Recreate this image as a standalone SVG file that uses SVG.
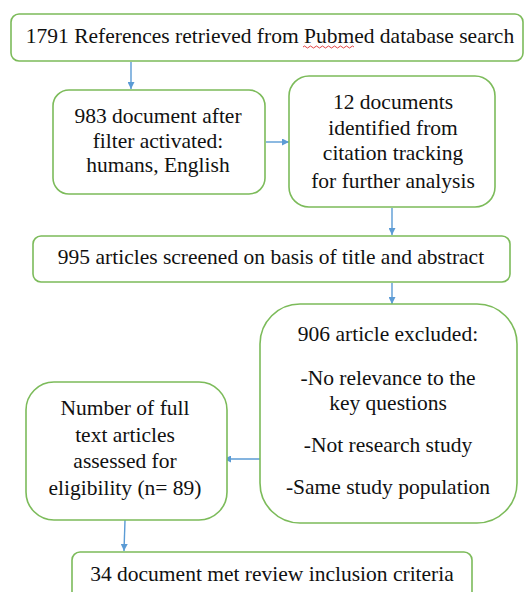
<svg xmlns="http://www.w3.org/2000/svg" width="528" height="592" viewBox="0 0 528 592">
<defs>
<marker id="ah" viewBox="0 0 10 10" refX="10" refY="5" markerWidth="7" markerHeight="7" markerUnits="userSpaceOnUse" orient="auto"><path d="M0,0 L10,5 L0,10 z" fill="#5b9bd5"/></marker>
</defs>
<rect width="528" height="592" fill="#fff"/>
<g id="connectors" stroke="#5b9bd5" stroke-width="1.4" fill="none">
<line x1="131" y1="62" x2="131" y2="89" marker-end="url(#ah)"/>
<line x1="266" y1="142" x2="289" y2="142" marker-end="url(#ah)"/>
<line x1="392" y1="208" x2="392" y2="235" marker-end="url(#ah)"/>
<line x1="392" y1="283" x2="392" y2="304" marker-end="url(#ah)"/>
<line x1="260" y1="459" x2="224" y2="459" marker-end="url(#ah)"/>
<line x1="125" y1="520" x2="124" y2="551" marker-end="url(#ah)"/>
</g>
<g id="n1">
<rect fill="#fff" stroke="#7cbb5a" stroke-width="1.6" x="11" y="14" width="512" height="47" rx="8"/>
<text style="font-family:'Liberation Serif',serif;font-size:21.5px" fill="#111" text-anchor="middle" x="270" y="43">1791 References retrieved from Pubmed database search</text>
<path d="M303,47 q1.5,-2 3,0 t3,0 t3,0 t3,0 t3,0 t3,0 t3,0 t3,0 t3,0 t3,0 t3,0 t3,0 t3,0 t3,0 t3,0 t3,0 t3,0" fill="none" stroke="#e03030" stroke-width="0.9"/>
</g>
<g id="n2">
<rect fill="#fff" stroke="#7cbb5a" stroke-width="1.6" x="53" y="90" width="212" height="104" rx="16"/>
<text style="font-family:'Liberation Serif',serif;font-size:21.5px" fill="#111" text-anchor="middle" x="158" y="123">983 document after</text>
<text style="font-family:'Liberation Serif',serif;font-size:21.5px" fill="#111" text-anchor="middle" x="158" y="148">filter activated:</text>
<text style="font-family:'Liberation Serif',serif;font-size:21.5px" fill="#111" text-anchor="middle" x="158" y="172">humans, English</text>
</g>
<g id="n3">
<rect fill="#fff" stroke="#7cbb5a" stroke-width="1.6" x="289" y="76" width="206" height="131" rx="20"/>
<text style="font-family:'Liberation Serif',serif;font-size:21.5px" fill="#111" text-anchor="middle" x="393" y="109">12 documents</text>
<text style="font-family:'Liberation Serif',serif;font-size:21.5px" fill="#111" text-anchor="middle" x="393" y="135">identified from</text>
<text style="font-family:'Liberation Serif',serif;font-size:21.5px" fill="#111" text-anchor="middle" x="393" y="160">citation tracking</text>
<text style="font-family:'Liberation Serif',serif;font-size:21.5px" fill="#111" text-anchor="middle" x="393" y="188">for further analysis</text>
</g>
<g id="n4">
<rect fill="#fff" stroke="#7cbb5a" stroke-width="1.6" x="33" y="236" width="477" height="46" rx="8"/>
<text style="font-family:'Liberation Serif',serif;font-size:21.5px" fill="#111" text-anchor="middle" x="271" y="264">995 articles screened on basis of title and abstract</text>
</g>
<g id="n5">
<rect fill="#fff" stroke="#7cbb5a" stroke-width="1.6" x="260" y="304" width="257" height="219" rx="40"/>
<text style="font-family:'Liberation Serif',serif;font-size:21.5px" fill="#111" text-anchor="middle" x="388" y="341">906 article excluded:</text>
<text style="font-family:'Liberation Serif',serif;font-size:21.5px" fill="#111" text-anchor="middle" x="388" y="385">-No relevance to the</text>
<text style="font-family:'Liberation Serif',serif;font-size:21.5px" fill="#111" text-anchor="middle" x="388" y="410">key questions</text>
<text style="font-family:'Liberation Serif',serif;font-size:21.5px" fill="#111" text-anchor="middle" x="388" y="452">-Not research study</text>
<text style="font-family:'Liberation Serif',serif;font-size:21.5px" fill="#111" text-anchor="middle" x="388" y="494">-Same study population</text>
</g>
<g id="n6">
<rect fill="#fff" stroke="#7cbb5a" stroke-width="1.6" x="26" y="382" width="201" height="138" rx="28"/>
<text style="font-family:'Liberation Serif',serif;font-size:21.5px" fill="#111" text-anchor="middle" x="125" y="415">Number of full</text>
<text style="font-family:'Liberation Serif',serif;font-size:21.5px" fill="#111" text-anchor="middle" x="125" y="442">text articles</text>
<text style="font-family:'Liberation Serif',serif;font-size:21.5px" fill="#111" text-anchor="middle" x="125" y="468">assessed for</text>
<text style="font-family:'Liberation Serif',serif;font-size:21.5px" fill="#111" text-anchor="middle" x="125" y="495">eligibility (n= 89)</text>
</g>
<g id="n7">
<rect fill="#fff" stroke="#7cbb5a" stroke-width="1.6" x="72" y="552" width="400" height="50" rx="8"/>
<text style="font-family:'Liberation Serif',serif;font-size:21.5px" fill="#111" text-anchor="middle" x="272" y="581">34 document met review inclusion criteria</text>
</g>
</svg>
